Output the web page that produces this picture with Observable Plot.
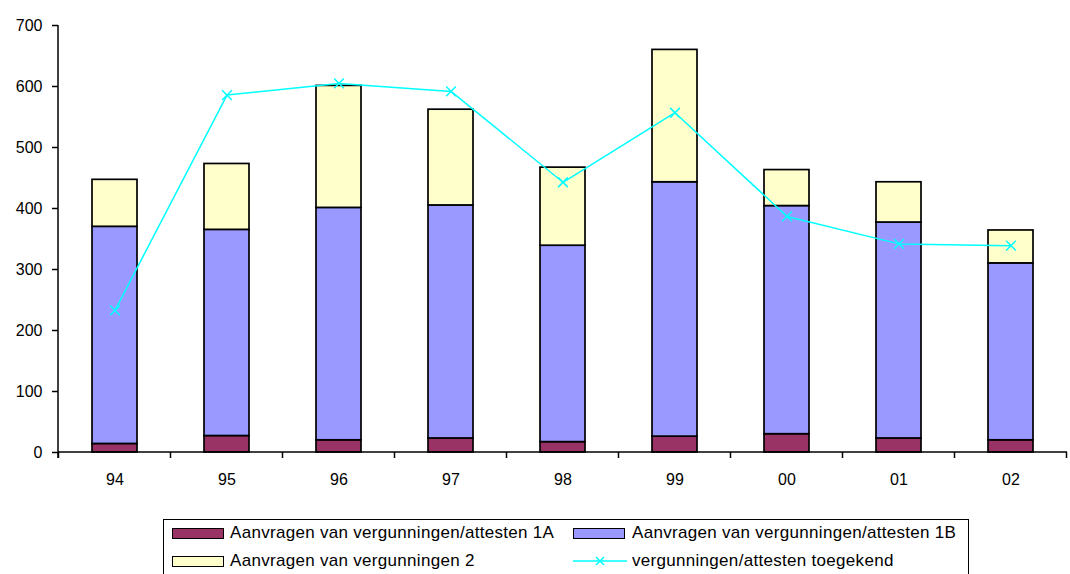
<!DOCTYPE html>
<html><head><meta charset="utf-8">
<script src="https://cdn.jsdelivr.net/npm/d3@7"></script>
<script src="https://cdn.jsdelivr.net/npm/@observablehq/plot@0.6"></script>
<style>
html,body{margin:0;padding:0;background:#fff;overflow:hidden;}
body{font-family:"Liberation Sans",Arial,sans-serif;color:#000;width:1070px;height:574px;}
#legend{position:relative;margin-left:163px;margin-top:19px;width:806px;height:70px;border:1.5px solid #000;box-sizing:border-box;font-size:17px;letter-spacing:0.3px;}
.item{position:absolute;height:20px;line-height:20px;white-space:nowrap;}
.sw{position:absolute;box-sizing:border-box;border:1.5px solid #000;}
</style></head>
<body><div id="chart"></div><div id="legend"></div>
<script>
const years = ["94","95","96","97","98","99","00","01","02"];
const seriesNames = ["Aanvragen van vergunningen/attesten 1A","Aanvragen van vergunningen/attesten 1B","Aanvragen van vergunningen 2"];
const seriesColors = ["#993366","#9999FF","#FFFFCC"];
const values1A = [14,27,20,23,17,26,30,23,20];
const values1B = [356,338,381,382,322,417,374,354,290];
const values2  = [77,108,200,157,128,217,59,66,54];
const lineName = "vergunningen/attesten toegekend";
const lineColor = "#00FFFF";
const lineValues = [233,586,605,592,443,557,387,342,339];
const yTicks = [0,100,200,300,400,500,600,700];

const seriesValues = [values1A, values1B, values2];
const barData = [];
years.forEach((yr, i) => seriesNames.forEach((s, j) => barData.push({year: yr, series: s, value: seriesValues[j][i]})));
const lineData = years.map((yr, i) => ({year: yr, value: lineValues[i]}));

function frameMarks(...args) {
  const scales = args.find(a => a && typeof a.x === "function" && typeof a.y === "function");
  const dims = args.find(a => a && a.marginLeft !== undefined && a.width !== undefined);
  const x = scales.x, y = scales.y;
  const step = x(years[1]) - x(years[0]);
  const bw = typeof x.bandwidth === "function" ? x.bandwidth() : 0;
  const y0 = y(0), yTop = y(yTicks[yTicks.length - 1]);
  const g = d3.create("svg:g").attr("stroke", "#000").attr("stroke-width", 1.5).attr("fill", "none");
  const xl = dims.marginLeft;
  g.append("line").attr("x1", xl).attr("x2", xl).attr("y1", yTop).attr("y2", y0 + 6);
  g.append("line").attr("x1", xl).attr("x2", dims.width - dims.marginRight).attr("y1", y0).attr("y2", y0);
  const bounds = years.map(c => x(c) + bw / 2 - step / 2);
  bounds.push(bounds[bounds.length - 1] + step);
  bounds.forEach(b => g.append("line").attr("x1", b).attr("x2", b).attr("y1", y0).attr("y2", y0 + 6));
  return g.node();
}

const chart = Plot.plot({
  width: 1070, height: 500,
  marginLeft: 58, marginRight: 3, marginTop: 25, marginBottom: 48,
  style: {fontFamily: "'Liberation Sans', Arial, sans-serif", fontSize: "16px", color: "#000", background: "#fff"},
  x: {domain: years, paddingInner: 0.6, paddingOuter: 0.3, label: null},
  y: {domain: [0, 700], label: null},
  color: {domain: seriesNames, range: seriesColors},
  marks: [
    Plot.barY(barData, {x: "year", y: "value", fill: "series", order: seriesNames, stroke: "#000", strokeWidth: 1.7}),
    Plot.line(lineData, {x: "year", y: "value", stroke: lineColor, strokeWidth: 1.5}),
    Plot.dot(lineData, {x: "year", y: "value", symbol: "times", r: 4.5, stroke: lineColor, strokeWidth: 1.5}),
    Plot.axisY(yTicks, {tickSize: 6, tickPadding: 10, strokeWidth: 1.5, fontSize: 16, label: null}),
    Plot.axisX({tickSize: 0, tickPadding: 21, fontSize: 16, label: null}),
    frameMarks
  ]
});
document.getElementById("chart").appendChild(chart);

// legend
const legend = document.getElementById("legend");
const entries = [
  {type: "box", name: seriesNames[0], color: seriesColors[0], col: 0, row: 0},
  {type: "box", name: seriesNames[1], color: seriesColors[1], col: 1, row: 0},
  {type: "box", name: seriesNames[2], color: seriesColors[2], col: 0, row: 1},
  {type: "line", name: lineName, color: lineColor, col: 1, row: 1}
];
const colSw = [8, 409], colText = [66, 468], rowC = [13, 41];
entries.forEach(e => {
  const cy = rowC[e.row];
  if (e.type === "box") {
    const s = document.createElement("div");
    s.className = "sw";
    s.style.cssText = `left:${colSw[e.col]}px;top:${cy - 5}px;width:52px;height:11px;background:${e.color};`;
    legend.appendChild(s);
  } else {
    const ns = "http://www.w3.org/2000/svg";
    const svg = document.createElementNS(ns, "svg");
    svg.setAttribute("width", 54); svg.setAttribute("height", 12);
    svg.style.cssText = `position:absolute;left:${colSw[e.col]}px;top:${cy - 6}px;`;
    svg.innerHTML = `<line x1="0" x2="54" y1="6" y2="6" stroke="${e.color}" stroke-width="1.5"/>` +
      `<path d="M23,2L31,10M31,2L23,10" stroke="${e.color}" stroke-width="1.5"/>`;
    legend.appendChild(svg);
  }
  const t = document.createElement("div");
  t.className = "item";
  t.style.left = colText[e.col] + "px";
  t.style.top = (cy - 10) + "px";
  t.textContent = e.name;
  legend.appendChild(t);
});
</script></body></html>
